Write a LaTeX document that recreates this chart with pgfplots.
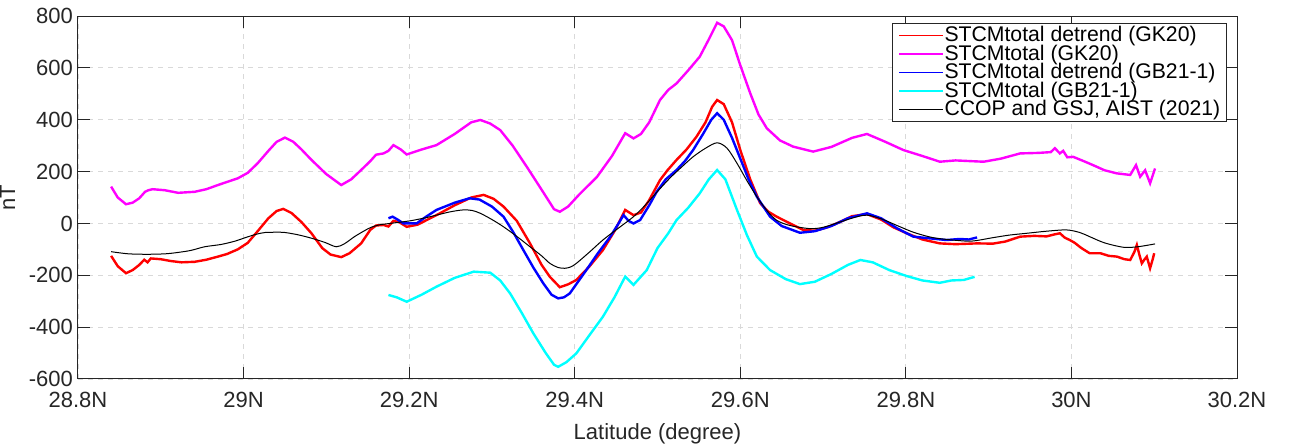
\documentclass[border=0pt]{standalone}
\usepackage{pgfplots}
\pgfplotsset{compat=1.18}
\usepackage{fontspec}
\setmainfont{Liberation Sans}

\definecolor{axgray}{RGB}{38,38,38}
\definecolor{cred}{RGB}{255,0,0}
\definecolor{cmag}{RGB}{255,0,255}
\definecolor{cblue}{RGB}{0,0,255}
\definecolor{ccyan}{RGB}{0,255,255}

\begin{document}
\begin{tikzpicture}
\useasboundingbox (-39pt,-34.5pt) rectangle (607.5pt,189.5pt);
\begin{axis}[
  scale only axis, width=579.5pt, height=181.5pt,
  xmin=28.8, xmax=30.2, ymin=-600, ymax=800,
  xtick={28.8,29.0,29.2,29.4,29.6,29.8,30.0,30.2},
  xticklabels={28.8N,29N,29.2N,29.4N,29.6N,29.8N,30N,30.2N},
  ytick={-600,-400,-200,0,200,400,600,800},
  /pgf/number format/assume math mode=true,
  tick label style={font=\fontsize{11}{13}\selectfont, text=axgray},
  xticklabel style={yshift=-3pt},
  yticklabel style={xshift=1pt},
  label style={font=\fontsize{11}{13}\selectfont, text=axgray},
  xlabel style={yshift=-1pt},
  xlabel={Latitude (degree)}, ylabel={nT},
  grid=major,
  major grid style={gray!30, line width=0.4pt, dash pattern=on 2.5pt off 2.5pt},
  major tick length=6pt,
  tick style={axgray, line width=0.5pt},
  axis line style={axgray, line width=0.5pt},
  legend cell align=left,
  % drawn twice: the first stroke in the legend loses its colour
  legend image code/.code={\draw[#1] (0pt,0pt) -- (22pt,0pt);
                           \draw[#1] (0pt,0pt) -- (22pt,0pt);},
  legend style={at={(1,1)}, anchor=north east, xshift=-5pt, yshift=-3.5pt,
    draw=axgray, fill=white, font=\fontsize{10.6}{10.6}\selectfont,
    row sep=-0.3pt, inner xsep=3pt, inner ysep=1.2pt, nodes={inner sep=0.2pt}},
]
\addlegendimage{draw=cred, line width=0.7pt}
\addlegendentry{STCMtotal detrend (GK20)}
\addlegendimage{draw=cmag, line width=0.7pt}
\addlegendentry{STCMtotal (GK20)}
\addlegendimage{draw=cblue, line width=0.7pt}
\addlegendentry{STCMtotal detrend (GB21-1)}
\addlegendimage{draw=ccyan, line width=0.7pt}
\addlegendentry{STCMtotal (GB21-1)}
\addlegendimage{draw=black, line width=0.6pt}
\addlegendentry{CCOP and GSJ, AIST (2021)}
% STCMtotal detrend (GK20)
\addplot[cred, line width=1.2pt, forget plot] coordinates {
(28.840,-125) (28.848,-165) (28.858,-192) (28.866,-180) (28.874,-160) (28.880,-140)
(28.884,-150) (28.888,-135) (28.900,-138) (28.912,-145) (28.925,-150) (28.941,-148)
(28.955,-140) (28.969,-128) (28.980,-118) (28.993,-100) (29.005,-75) (29.017,-30)
(29.030,20) (29.040,48) (29.048,56) (29.058,40) (29.070,5) (29.082,-38) (29.095,-95)
(29.105,-120) (29.118,-130) (29.128,-115) (29.142,-77) (29.153,-25) (29.160,-8)
(29.169,-6) (29.175,-12) (29.181,10) (29.188,5) (29.197,-13) (29.210,-5) (29.233,32)
(29.255,70) (29.275,100) (29.290,110) (29.302,95) (29.314,65) (29.330,10) (29.346,-77)
(29.360,-160) (29.370,-206) (29.382,-246) (29.392,-235) (29.402,-218) (29.418,-165)
(29.434,-103) (29.448,-30) (29.461,52) (29.471,32) (29.480,42) (29.490,90) (29.503,167)
(29.512,205) (29.523,245) (29.535,285) (29.547,334) (29.558,390) (29.566,450)
(29.572,476) (29.580,460) (29.590,390) (29.600,283) (29.612,170) (29.624,78)
(29.634,45) (29.644,26) (29.660,0) (29.676,-25) (29.690,-28) (29.705,-15) (29.720,5)
(29.735,28) (29.753,36) (29.770,15) (29.785,-15) (29.801,-38) (29.820,-62)
(29.841,-77) (29.860,-80) (29.886,-77) (29.905,-78) (29.920,-70) (29.938,-51)
(29.955,-48) (29.970,-50) (29.980,-42) (29.986,-38) (29.992,-55) (29.998,-64)
(30.004,-75) (30.012,-95) (30.022,-115) (30.035,-115) (30.045,-125) (30.055,-128)
(30.064,-138) (30.071,-141) (30.076,-110) (30.079,-83) (30.082,-120) (30.085,-154)
(30.088,-140) (30.091,-128) (30.095,-173) (30.098,-140) (30.100,-115)
};
% STCMtotal (GK20)
\addplot[cmag, line width=1.2pt, forget plot] coordinates {
(28.840,142) (28.848,100) (28.858,74) (28.866,80) (28.874,97) (28.881,122) (28.885,128)
(28.890,132) (28.905,128) (28.921,118) (28.941,122) (28.955,132) (28.969,148)
(28.980,160) (28.993,174) (29.005,195) (29.017,232) (29.030,280) (29.040,315)
(29.050,331) (29.060,315) (29.070,285) (29.082,245) (29.100,190) (29.118,148)
(29.130,170) (29.142,206) (29.153,240) (29.160,265) (29.169,270) (29.175,280)
(29.181,302) (29.190,285) (29.197,266) (29.215,285) (29.233,302) (29.255,345)
(29.275,390) (29.286,399) (29.298,385) (29.310,360) (29.325,300) (29.342,219)
(29.360,130) (29.375,55) (29.382,45) (29.392,65) (29.405,110) (29.427,180)
(29.445,260) (29.461,348) (29.471,328) (29.480,345) (29.490,390) (29.503,476)
(29.513,515) (29.523,540) (29.537,590) (29.551,643) (29.562,710) (29.572,774)
(29.580,760) (29.590,707) (29.600,610) (29.612,502) (29.622,420) (29.632,367)
(29.648,320) (29.664,296) (29.688,277) (29.710,295) (29.735,330) (29.753,345)
(29.775,315) (29.797,283) (29.820,260) (29.841,238) (29.860,243) (29.880,240)
(29.894,238) (29.915,250) (29.938,270) (29.960,272) (29.975,275) (29.980,290)
(29.986,270) (29.990,280) (29.995,255) (30.002,257) (30.015,240) (30.026,225)
(30.040,205) (30.055,193) (30.071,187) (30.078,225) (30.083,180) (30.089,205)
(30.095,155) (30.101,212)
};
% STCMtotal detrend (GB21-1)
\addplot[cblue, line width=1.2pt, forget plot] coordinates {
(29.175,20) (29.180,26) (29.186,15) (29.193,0) (29.209,0) (29.220,25) (29.233,52)
(29.255,80) (29.273,97) (29.285,92) (29.300,65) (29.314,26) (29.326,-35) (29.338,-103)
(29.350,-170) (29.362,-231) (29.372,-275) (29.380,-289) (29.387,-285) (29.394,-270)
(29.404,-225) (29.414,-180) (29.428,-115) (29.443,-51) (29.452,-5) (29.459,32)
(29.465,10) (29.471,0) (29.479,13) (29.490,70) (29.499,122) (29.510,170) (29.523,206)
(29.533,240) (29.543,283) (29.555,345) (29.565,400) (29.572,425) (29.580,400)
(29.590,330) (29.600,250) (29.610,170) (29.620,103) (29.636,26) (29.650,-10)
(29.672,-36) (29.690,-30) (29.710,-10) (29.730,20) (29.753,39) (29.770,20)
(29.790,-20) (29.809,-51) (29.830,-58) (29.849,-64) (29.865,-60) (29.876,-62)
(29.886,-54)
};
% STCMtotal (GB21-1)
\addplot[ccyan, line width=1.2pt, forget plot] coordinates {
(29.175,-276) (29.185,-285) (29.197,-302) (29.215,-275) (29.233,-244) (29.255,-210)
(29.278,-186) (29.298,-190) (29.310,-220) (29.322,-270) (29.336,-345) (29.350,-424)
(29.365,-500) (29.375,-545) (29.380,-553) (29.390,-535) (29.402,-501) (29.418,-430)
(29.434,-360) (29.448,-285) (29.461,-205) (29.471,-237) (29.487,-180) (29.500,-95)
(29.513,-38) (29.523,13) (29.537,60) (29.551,116) (29.562,170) (29.572,206)
(29.582,170) (29.596,52) (29.608,-45) (29.620,-128) (29.636,-180) (29.655,-215)
(29.672,-234) (29.690,-225) (29.710,-195) (29.730,-160) (29.745,-141) (29.760,-150)
(29.780,-180) (29.801,-203) (29.820,-220) (29.841,-229) (29.855,-220) (29.870,-218)
(29.883,-206)
};
% CCOP and GSJ, AIST (2021)
\addplot[black, line width=0.5pt, smooth, forget plot] coordinates {
(28.840,-109) (28.860,-117) (28.881,-119) (28.900,-118) (28.913,-115) (28.935,-105)
(28.953,-90) (28.973,-81) (28.990,-68) (29.001,-56) (29.015,-42) (29.026,-35)
(29.040,-34) (29.050,-35) (29.066,-44) (29.082,-57) (29.098,-73) (29.112,-90)
(29.122,-78) (29.134,-51) (29.145,-30) (29.154,-15) (29.165,-5) (29.177,0)
(29.201,10) (29.220,22) (29.233,32) (29.250,45) (29.265,52) (29.276,50) (29.286,39)
(29.300,15) (29.314,-13) (29.330,-50) (29.346,-90) (29.360,-125) (29.370,-154)
(29.380,-170) (29.388,-173) (29.395,-168) (29.402,-154) (29.418,-110) (29.434,-64)
(29.452,-20) (29.471,26) (29.485,70) (29.499,120) (29.515,175) (29.530,220)
(29.543,257) (29.558,290) (29.572,311) (29.584,290) (29.596,232) (29.608,165)
(29.620,103) (29.632,50) (29.644,12) (29.660,-8) (29.684,-20) (29.700,-15) (29.720,5)
(29.740,25) (29.753,32) (29.770,18) (29.793,-13) (29.810,-35) (29.833,-55)
(29.860,-65) (29.880,-68) (29.905,-55) (29.925,-45) (29.946,-38) (29.970,-30)
(29.994,-25) (30.010,-35) (30.022,-51) (30.040,-75) (30.063,-92) (30.080,-90)
(30.101,-79)
};
\end{axis}
\end{tikzpicture}
\end{document}
